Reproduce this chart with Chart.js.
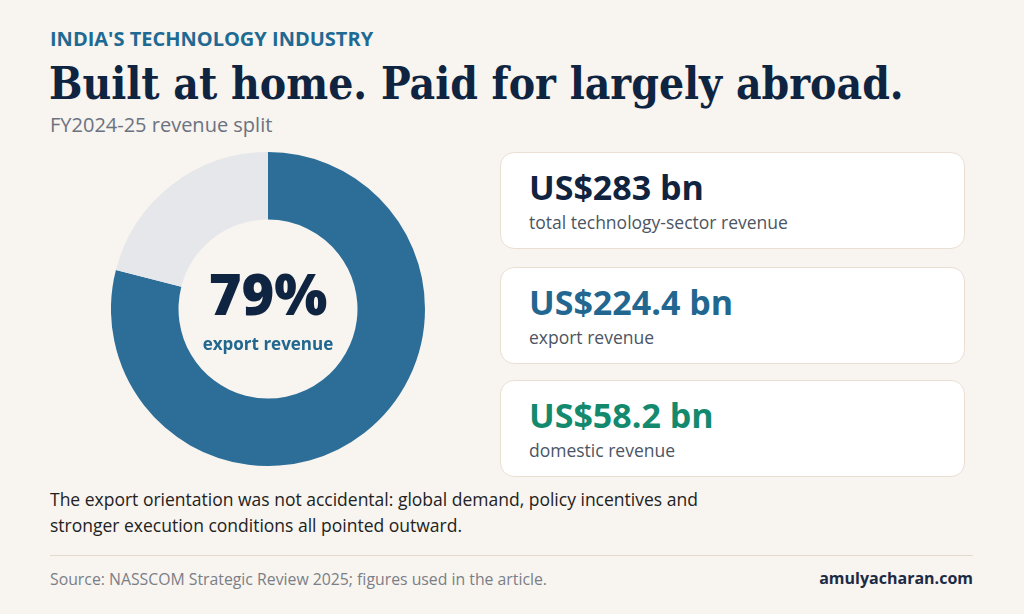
<!DOCTYPE html>
<html>
<head>
<meta charset="utf-8">
<script src="https://cdn.jsdelivr.net/npm/chart.js@4.4.1/dist/chart.umd.min.js"></script>
<style>
  html, body { margin: 0; padding: 0; }
  body {
    width: 1024px; height: 614px; overflow: hidden; position: relative;
    background: #f8f4ef; font-family: "Open Sans", "Noto Sans", sans-serif; color: #1f2937;
  }
  .abs { position: absolute; }
  #kicker { left: 50px; top: 25px; font-size: 20px; font-weight: 700; color: #1f6a93; }
  #title { left: 49px; top: 58px; font-family: "DejaVu Serif Condensed", "DejaVu Serif", serif; font-weight: 700; font-size: 44px; color: #0f2440; white-space: nowrap; }
  #subtitle { left: 50px; top: 111px; font-size: 20px; color: #6b7280; }
  #donut { left: 111px; top: 152px; width: 314px; height: 314px; }
  #big { left: 168px; top: 255px; width: 200px; text-align: center; font-size: 56px; font-weight: 800; color: #0f2440; }
  #small { left: 168px; top: 332px; width: 200px; text-align: center; font-size: 17px; font-weight: 700; color: #22678f; }
  .card {
    position: absolute; left: 500px; width: 465px; height: 97px;
    background: #ffffff; border: 1px solid #eadfd3; border-radius: 14px; box-sizing: border-box;
  }
  .card .val { position: absolute; left: 28px; top: 12px; font-size: 34px; font-weight: 700; line-height: 44px; }
  .card .lab { position: absolute; left: 28px; top: 57px; font-size: 17.5px; color: #4b5563; }
  #note { left: 50px; top: 486px; font-size: 17.5px; line-height: 26px; color: #222; width: 690px; }
  #rule { left: 50px; top: 555px; width: 923px; height: 1px; background: #e2d9cf; }
  #source { left: 50px; top: 568px; font-size: 15.8px; color: #7a7f87; }
  #brand { right: 51px; top: 567px; font-size: 16px; font-weight: 700; color: #1c2b45; }
</style>
</head>
<body>
<div id="kicker" class="abs">INDIA'S TECHNOLOGY INDUSTRY</div>
<div id="title" class="abs">Built at home. Paid for largely abroad.</div>
<div id="subtitle" class="abs">FY2024-25 revenue split</div>

<div id="donut" class="abs"><canvas id="split-chart"></canvas></div>
<div id="big" class="abs">79%</div>
<div id="small" class="abs">export revenue</div>

<div id="cards"></div>

<div id="note" class="abs">The export orientation was not accidental: global demand, policy incentives and stronger execution conditions all pointed outward.</div>
<div id="rule" class="abs"></div>
<div id="source" class="abs">Source: NASSCOM Strategic Review 2025; figures used in the article.</div>
<div id="brand" class="abs">amulyacharan.com</div>

<script>
// Revenue split, FY2024-25 (share of total, %)
var splitLabels = ['Export', 'Domestic'];
var splitValues = [79, 21];
var splitColors = ['#2d6e98', '#e5e7ea'];

// Stat cards
var cardValues = ['US$283 bn', 'US$224.4 bn', 'US$58.2 bn'];
var cardLabels = ['total technology-sector revenue', 'export revenue', 'domestic revenue'];
var cardColors = ['#10233f', '#22678f', '#138a6e'];

function buildCards() {
  var holder = document.getElementById('cards');
  var tops = [152, 267, 380];
  for (var i = 0; i < cardValues.length; i++) {
    var card = document.createElement('div');
    card.className = 'card';
    card.style.top = tops[i] + 'px';
    card.innerHTML = '<div class="val" style="color:' + cardColors[i] + '">' + cardValues[i] + '</div>' +
      '<div class="lab">' + cardLabels[i] + '</div>';
    holder.appendChild(card);
  }
}

function createSplitChart() {
  var ctx = document.getElementById('split-chart').getContext('2d');
  new Chart(ctx, {
    type: 'doughnut',
    data: {
      labels: splitLabels,
      datasets: [{
        data: splitValues,
        backgroundColor: splitColors,
        borderWidth: 0,
      }]
    },
    options: {
      responsive: true,
      maintainAspectRatio: false,
      animation: false,
      cutout: '57%',
      layout: { padding: 0 },
      plugins: {
        legend: { display: false },
        tooltip: { enabled: false },
      },
    },
  });
}

document.addEventListener('DOMContentLoaded', function () {
  buildCards();
  createSplitChart();
});
</script>
</body>
</html>
